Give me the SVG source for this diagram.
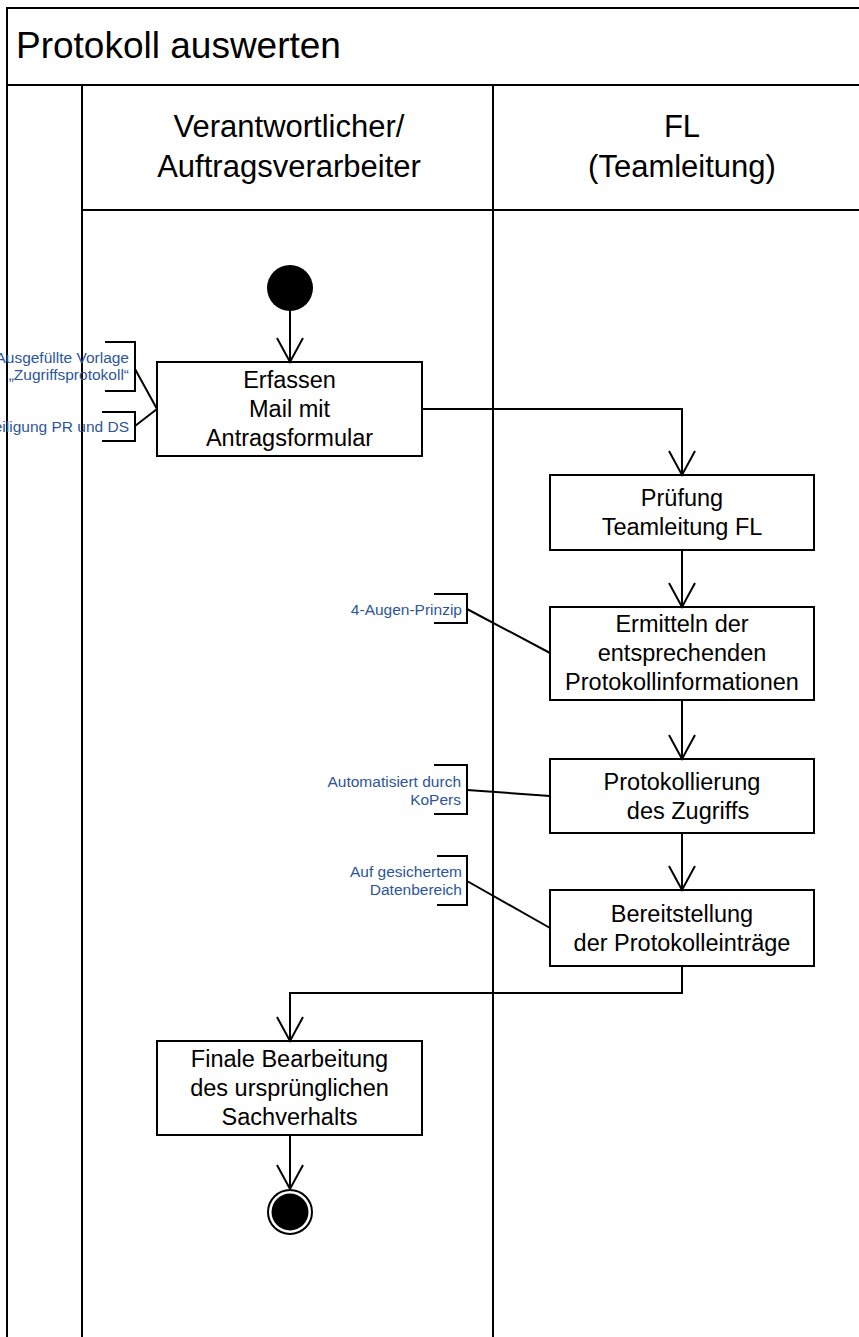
<svg xmlns="http://www.w3.org/2000/svg" width="859" height="1337" viewBox="0 0 859 1337">
<defs>
<style>
.frame{fill:none;stroke:#000;stroke-width:2}
.box{fill:#fff;stroke:#000;stroke-width:2}
.conn{fill:none;stroke:#000;stroke-width:2}
.lead{fill:none;stroke:#000;stroke-width:2}
.t{font-family:"Liberation Sans",Arial,sans-serif;fill:#000}
.title{font-size:37px}
.lane{font-size:31px;text-anchor:middle}
.bt{font-size:23.5px;text-anchor:middle}
.note{font-family:"Liberation Sans",Arial,sans-serif;font-size:15.5px;fill:#2E5597;text-anchor:end}
</style>
<marker id="arr" markerUnits="userSpaceOnUse" viewBox="-27 -16 30 32" markerWidth="30" markerHeight="32" refX="0" refY="0" orient="auto">
<path d="M-24,-13 L0,0 L-24,13" fill="none" stroke="#000" stroke-width="2"/>
</marker>
</defs>
<rect width="859" height="1337" fill="#fff"/>
<g id="pool">
<path class="frame" d="M7,1337 V8 H859 M7,85 H859 M82,85 V1337 M493,85 V1337 M82,210 H859"/>
<text class="t title" x="16" y="58">Protokoll auswerten</text>
</g>
<g id="lane-verantwortlicher">
<text class="t lane" x="289" y="137">Verantwortlicher/</text>
<text class="t lane" x="289" y="177">Auftragsverarbeiter</text>
</g>
<g id="lane-fl">
<text class="t lane" x="682" y="137">FL</text>
<text class="t lane" x="682" y="177">(Teamleitung)</text>
</g>
<g id="start">
<circle cx="290" cy="288" r="23" fill="#000"/>
</g>
<g id="erfassen">
<rect class="box" x="157" y="362" width="265" height="94"/>
<text class="t bt" x="289.5" y="387.5">Erfassen</text>
<text class="t bt" x="289.5" y="416.5">Mail mit</text>
<text class="t bt" x="289.5" y="445.5">Antragsformular</text>
</g>
<g id="pruefung">
<rect class="box" x="550" y="475" width="264" height="75"/>
<text class="t bt" x="682" y="506">Prüfung</text>
<text class="t bt" x="682" y="535">Teamleitung FL</text>
</g>
<g id="ermitteln">
<rect class="box" x="550" y="607" width="264" height="93"/>
<text class="t bt" x="682" y="632">Ermitteln der</text>
<text class="t bt" x="682" y="661">entsprechenden</text>
<text class="t bt" x="682" y="690">Protokollinformationen</text>
</g>
<g id="protokollierung">
<rect class="box" x="550" y="759" width="264" height="74"/>
<text class="t bt" x="682" y="789.5">Protokollierung</text>
<text class="t bt" x="688" y="818.5">des Zugriffs</text>
</g>
<g id="bereitstellung">
<rect class="box" x="550" y="890" width="264" height="76"/>
<text class="t bt" x="682" y="921.5">Bereitstellung</text>
<text class="t bt" x="682" y="950.5">der Protokolleinträge</text>
</g>
<g id="finale">
<rect class="box" x="157" y="1041" width="265" height="94"/>
<text class="t bt" x="289.5" y="1066.5">Finale Bearbeitung</text>
<text class="t bt" x="289.5" y="1095.5">des ursprünglichen</text>
<text class="t bt" x="289.5" y="1124.5">Sachverhalts</text>
</g>
<g id="end">
<circle cx="290" cy="1212" r="22" fill="#fff" stroke="#000" stroke-width="2"/>
<circle cx="290" cy="1212" r="18.5" fill="#000"/>
</g>
<g id="note-vorlage">
<path class="lead" d="M105,342 H135 V391 H105"/>
<text class="note" x="129" y="363">Ausgefüllte Vorlage</text>
<text class="note" x="129" y="380">„Zugriffsprotokoll“</text>
</g>
<g id="note-beteiligung">
<path class="lead" d="M102,412 H135 V441 H102"/>
<text class="note" x="129" y="432">Beteiligung PR und DS</text>
</g>
<g id="note-augen">
<path class="lead" d="M434,594 H467 V623 H434"/>
<text class="note" x="462" y="615">4-Augen-Prinzip</text>
</g>
<g id="note-kopers">
<path class="lead" d="M434,765 H467 V814 H434"/>
<text class="note" x="461" y="787">Automatisiert durch</text>
<text class="note" x="461" y="805">KoPers</text>
</g>
<g id="note-datenbereich">
<path class="lead" d="M437,856 H467 V905 H437"/>
<text class="note" x="462" y="877">Auf gesichertem</text>
<text class="note" x="462" y="895">Datenbereich</text>
</g>
<g id="connectors">
<path class="conn" d="M290,311 V362" marker-end="url(#arr)"/>
<path class="conn" d="M422,409 H682 V475" marker-end="url(#arr)"/>
<path class="conn" d="M682,550 V607" marker-end="url(#arr)"/>
<path class="conn" d="M682,700 V759" marker-end="url(#arr)"/>
<path class="conn" d="M682,833 V890" marker-end="url(#arr)"/>
<path class="conn" d="M682,966 V993 H290 V1041" marker-end="url(#arr)"/>
<path class="conn" d="M290,1135 V1189" marker-end="url(#arr)"/>
<path class="lead" d="M135,369 L157,409 M135,426 L157,409"/>
<path class="lead" d="M467,609 L550,653"/>
<path class="lead" d="M467,790 L550,796"/>
<path class="lead" d="M467,881 L550,928"/>
</g>
</svg>
